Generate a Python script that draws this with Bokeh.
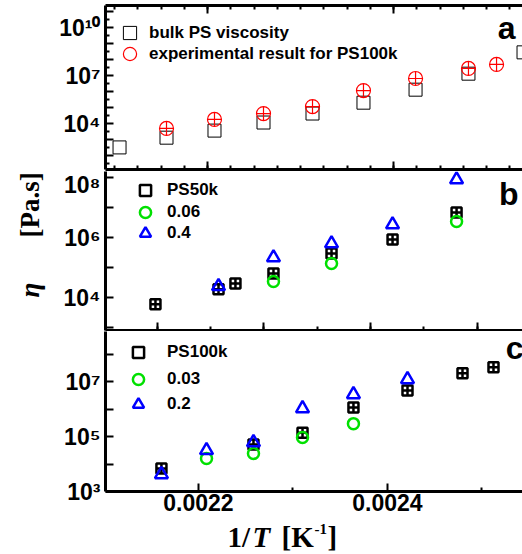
import math
from bokeh.plotting import figure
from bokeh.models import (Range1d, FixedTicker, CustomJSTickFormatter, LinearAxis,
                          Legend, LegendItem, Label, ColumnDataSource)
from bokeh.layouts import column, row
from bokeh.embed import file_html
from bokeh.resources import INLINE

# ---------------- data ----------------
# panel a
a_bulk_x = [0.0021054, 0.0021559, 0.0022075, 0.0022602, 0.0023129, 0.0023677, 0.0024237, 0.0024806, 0.0025398]
a_bulk_y = [3.2e2, 1.3e3, 3.6e3, 1.15e4, 4.2e4, 2.0e5, 1.3e6, 1.3e7, 2.8e8]
a_exp_x = [0.0021559, 0.0022075, 0.0022602, 0.0023129, 0.0023677, 0.0024237, 0.0024806, 0.0025108]
a_exp_y = [4.9e3, 1.8e4, 4.2e4, 1.15e5, 1.15e6, 6.5e6, 2.75e7, 4.9e7]

# panel b
b_ps_x = [0.0021981, 0.0022573, 0.0022732, 0.0023089, 0.0023634, 0.0024207, 0.0024808]
b_ps_y = [5.9e3, 1.9e4, 2.95e4, 6.3e4, 2.95e5, 8.5e5, 6.8e6]
b_006_x = [0.0023089, 0.0023634, 0.0024808]
b_006_y = [3.4e4, 1.35e5, 3.4e6]
b_04_x = [0.0022573, 0.0023089, 0.0023634, 0.0024207, 0.0024808]
b_04_y = [2.35e4, 2.15e5, 6.3e5, 2.7e6, 8.5e7]

# panel c
c_ps_x = [0.0021608, 0.0022582, 0.0023101, 0.0023640, 0.0024212, 0.0024794, 0.0025122]
c_ps_y = [6.9e3, 5.2e4, 1.4e5, 1.17e6, 4.9e6, 2.05e7, 3.4e7]
c_003_x = [0.0022085, 0.0022582, 0.0023101, 0.0023640]
c_003_y = [1.6e4, 2.45e4, 9.3e4, 3.0e5]
c_02_x = [0.0021608, 0.0022085, 0.0022582, 0.0023101, 0.0023640, 0.0024212]
c_02_y = [4.2e3, 3.2e4, 6.2e4, 1.07e6, 3.5e6, 1.23e7]

# ticks / labels
a_ytick_vals = [1e4, 1e7, 1e10]
a_ytick_labels = ["10\u2074", "10\u2077", "10\u00b9\u2070"]
b_ytick_vals = [1e4, 1e6, 1e8]
b_ytick_labels = ["10\u2074", "10\u2076", "10\u2078"]
c_ytick_vals = [1e3, 1e5, 1e7]
c_ytick_labels = ["10\u00b3", "10\u2075", "10\u2077"]
c_xtick_vals = [0.0022, 0.0024]
c_xtick_labels = ["0.0022", "0.0024"]

legend_a = ["bulk PS viscosity", "experimental result for PS100k"]
legend_b = ["PS50k", "0.06", "0.4"]
legend_c = ["PS100k", "0.03", "0.2"]

GREEN = "#00e000"
BLUE = "#0000ff"
RED = "#ff0000"
SANS = "Liberation Sans"
SERIF = "Liberation Serif"

FMT_CODE = """
for (let i = 0; i < vals.length; i++) {
  if (Math.abs(tick - vals[i]) <= 1e-6 * Math.abs(vals[i])) { return labs[i]; }
}
return "";
"""


def fmt(vals, labs):
    return CustomJSTickFormatter(args=dict(vals=vals, labs=labs), code=FMT_CODE)


MAIN_W = 472
LEFT_B = 55
FW = MAIN_W - LEFT_B


def make_fig(h, top, bottom, xr, yr):
    p = figure(width=MAIN_W, height=h, x_range=Range1d(*xr), y_range=Range1d(*yr),
               y_axis_type="log", output_backend="svg", toolbar_location=None,
               min_border_left=LEFT_B, min_border_right=0, min_border_top=top,
               min_border_bottom=bottom)
    p.outline_line_color = None
    p.xgrid.visible = False
    p.ygrid.visible = False
    p.background_fill_color = "white"
    p.border_fill_color = "white"
    return p


def blank(w, h):
    p = figure(width=w, height=h, x_range=Range1d(0, 1), y_range=Range1d(0, 1),
               output_backend="svg", toolbar_location=None, min_border=0,
               x_axis_location=None, y_axis_location=None)
    p.outline_line_color = None
    p.grid.visible = False
    p.background_fill_color = "white"
    p.border_fill_color = "white"
    return p


def style_axis(ax, major, minor, formatter, label_size="23px", standoff=5):
    ax.ticker = FixedTicker(ticks=major, minor_ticks=minor)
    ax.formatter = formatter
    ax.axis_line_width = 3
    ax.axis_line_color = "black"
    ax.major_tick_in = 8
    ax.major_tick_out = 0
    ax.minor_tick_in = 4
    ax.minor_tick_out = 0
    ax.major_tick_line_width = 2
    ax.minor_tick_line_width = 2
    ax.major_tick_line_color = "black"
    ax.minor_tick_line_color = "black"
    ax.major_label_text_font = SANS
    ax.major_label_text_font_style = "bold"
    ax.major_label_text_font_size = label_size
    ax.major_label_text_color = "black"
    ax.major_label_standoff = standoff


def hide_labels(ax):
    ax.major_label_text_font_size = "0px"
    ax.major_label_standoff = 0


def dummy(p, marker, color, lw):
    src = ColumnDataSource(dict(x=[float("nan")], y=[float("nan")]))
    return p.scatter("x", "y", source=src, marker=marker, line_color=color,
                     fill_alpha=0, line_width=lw)


def legend_row(p, label, renderer, lx, ly, g, standoff):
    lg = Legend(items=[LegendItem(label=label, renderers=[renderer])], location=(lx, ly),
                glyph_width=g, glyph_height=g, label_height=g, spacing=0, padding=0,
                margin=0, label_standoff=standoff, background_fill_alpha=0,
                border_line_alpha=0, label_text_font=SANS, label_text_font_style="bold",
                label_text_font_size="17px", label_text_color="black")
    p.add_layout(lg)


def add_label(p, x, y, text, size, font=SANS, style="bold", angle=0, align="left",
              baseline="middle"):
    p.add_layout(Label(x=x, y=y, x_units="screen", y_units="screen", text=text,
                       text_font=font, text_font_size=f"{size}px", text_font_style=style,
                       angle=angle, text_align=align, text_baseline=baseline,
                       text_color="black"))


a_xmajor = [0.0020, 0.0022, 0.0024, 0.0026]
a_xminor = [round(0.0020 + i * 0.000025, 7) for i in range(25)]
b_xmajor = [0.0021, 0.0022, 0.0023, 0.0024, 0.0025]
b_xminor = [round(0.0021 + i * 0.00005, 6) for i in range(10)]
c_xmajor = [0.0020, 0.0022, 0.0024, 0.0026]
c_xminor = [0.0021, 0.0023, 0.0025]

# ---------------- panel a ----------------
pa = make_fig(171, 5, 2, (0.0020903, 0.0025387), (10 ** 1.125, 10 ** 11.375))
style_axis(pa.xaxis[0], a_xmajor, a_xminor, fmt([], []))
hide_labels(pa.xaxis[0])
style_axis(pa.yaxis[0], [10.0 ** k for k in range(1, 12)],
           [10.0 ** (k + 0.5) for k in range(1, 11)], fmt(a_ytick_vals, a_ytick_labels))
top_ax = LinearAxis()
style_axis(top_ax, a_xmajor, a_xminor, fmt([], []))
hide_labels(top_ax)
pa.add_layout(top_ax, "above")

pa.scatter(a_bulk_x, a_bulk_y, marker="square", size=13, line_color="black",
           fill_alpha=0, line_width=1)
pa.scatter(a_exp_x, a_exp_y, marker="circle_cross", size=14, line_color=RED,
           fill_alpha=0, line_width=1.2)
ra1 = dummy(pa, "square", "black", 1)
ra2 = dummy(pa, "circle", RED, 1.2)
legend_row(pa, legend_a[0], ra1, 8, 120, 33, 3)
legend_row(pa, legend_a[1], ra2, 8, 99, 33, 3)
add_label(pa, FW - 7, 142, "a", 32, align="right")

# ---------------- panel b ----------------
pb = make_fig(160, 0, 1, (0.0021512, 0.0025427), (10 ** 2.9, 10 ** 8.2))
style_axis(pb.xaxis[0], b_xmajor, b_xminor, fmt([], []))
hide_labels(pb.xaxis[0])
style_axis(pb.yaxis[0], [10.0 ** k for k in range(2, 10)], [], fmt(b_ytick_vals, b_ytick_labels))

pb.scatter(b_ps_x, b_ps_y, marker="square_cross", size=10, line_color="black",
           fill_alpha=0, line_width=2.5)
pb.scatter(b_006_x, b_006_y, marker="circle", size=11, line_color=GREEN,
           fill_alpha=0, line_width=2.5)
pb.scatter(b_04_x, b_04_y, marker="triangle", size=13, line_color=BLUE,
           fill_alpha=0, line_width=2.5)
rb1 = dummy(pb, "square", "black", 2.5)
rb2 = dummy(pb, "circle", GREEN, 2.5)
rb3 = dummy(pb, "triangle", BLUE, 2.5)
legend_row(pb, legend_b[0], rb1, 26, 126, 28, 8)
legend_row(pb, legend_b[1], rb2, 26, 104, 28, 8)
legend_row(pb, legend_b[2], rb3, 26, 83, 28, 8)
add_label(pb, FW - 4, 137, "b", 32, align="right")

# ---------------- panel c ----------------
pc = make_fig(188, 0, 28, (0.0021016, 0.0025429), (10 ** 3, 10 ** 8.84))
style_axis(pc.xaxis[0], c_xmajor, c_xminor, fmt(c_xtick_vals, c_xtick_labels), standoff=2)
style_axis(pc.yaxis[0], [10.0 ** k for k in range(3, 10)], [], fmt(c_ytick_vals, c_ytick_labels))

pc.scatter(c_ps_x, c_ps_y, marker="square_cross", size=10, line_color="black",
           fill_alpha=0, line_width=2.5)
pc.scatter(c_003_x, c_003_y, marker="circle", size=11, line_color=GREEN,
           fill_alpha=0, line_width=2.5)
pc.scatter(c_02_x, c_02_y, marker="triangle", size=13, line_color=BLUE,
           fill_alpha=0, line_width=2.5)
rc1 = dummy(pc, "square", "black", 2.5)
rc2 = dummy(pc, "circle", GREEN, 2.5)
rc3 = dummy(pc, "triangle", BLUE, 2.5)
legend_row(pc, legend_c[0], rc1, 19, 125, 28, 15)
legend_row(pc, legend_c[1], rc2, 19, 98, 28, 15)
legend_row(pc, legend_c[2], rc3, 19, 73, 28, 15)
add_label(pc, FW + 1, 144, "c", 32, align="right")

# ---------------- x title (below panel c; frame aligned with panels) ----------------
xlab = blank(MAIN_W, 35)
add_label(xlab, 122, 18, "1/", 29, font=SERIF)
add_label(xlab, 147, 18, "T", 29, font=SERIF, style="bold italic")
add_label(xlab, 176, 18, "[K", 29, font=SERIF)
add_label(xlab, 209, 26, "-1", 15, font=SERIF)
add_label(xlab, 222, 18, "]", 29, font=SERIF)

# ---------------- y title ----------------
ylab = blank(50, 554)
add_label(ylab, 29, 257, "\u03b7", 27, font=SERIF, style="bold italic", angle=math.pi / 2)
add_label(ylab, 29, 317, "[Pa.s]", 27, font=SERIF, style="bold", angle=math.pi / 2)

layout = row(ylab, column(pa, pb, pc, xlab, spacing=0), spacing=0)
open("out.html", "w").write(file_html(layout, INLINE))
